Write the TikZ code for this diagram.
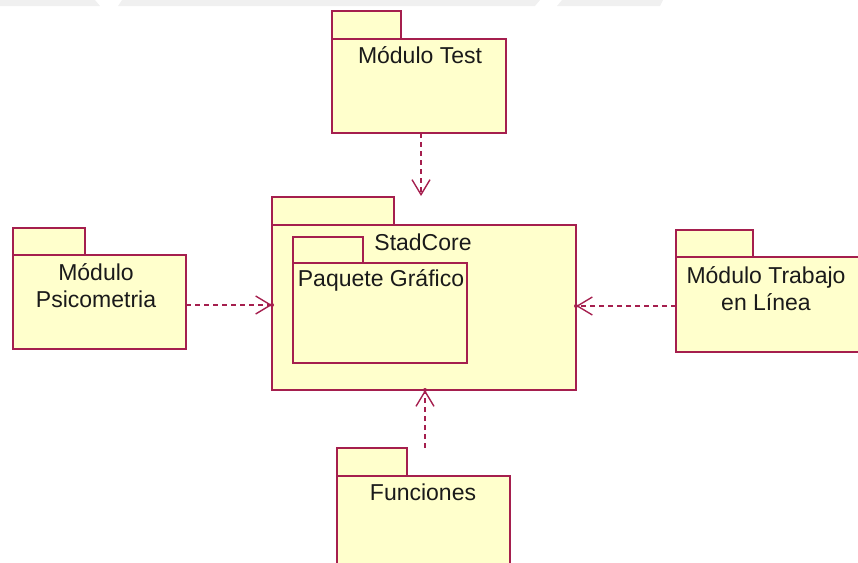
\documentclass[tikz,border=0pt]{standalone}
\usepackage{fontspec}
\setmainfont{Liberation Sans}
\usetikzlibrary{arrows.meta}
\definecolor{pkgline}{HTML}{A51F4E}
\definecolor{pkgfill}{HTML}{FFFFCC}
\definecolor{txt}{HTML}{1A1A1A}
\definecolor{band}{HTML}{F0F0F0}
\tikzset{
  pkg/.style={draw=pkgline, fill=pkgfill, line width=1.6pt, inner sep=0pt, outer sep=0pt, anchor=north west},
  lbl/.style={text=txt, font=\fontsize{23}{27}\selectfont, inner sep=0pt, align=center},
  dep/.style={draw=pkgline, line width=2pt, dash pattern=on 5pt off 4pt, -{Straight Barb[length=15pt,width=18pt,line width=1.4pt]}},
  tipdot/.style={fill=pkgline}
}
\begin{document}
\begin{tikzpicture}[x=1pt,y=-1pt]
\useasboundingbox (0,0) rectangle (858,562);
\clip (0,0) rectangle (858,562);
% top band
\fill[band] (0,0) -- (95,0) -- (100,6) -- (0,6) -- cycle;
\fill[band] (122,0) -- (540,0) -- (535,6) -- (118,6) -- cycle;
\fill[band] (562,0) -- (663,0) -- (660,6) -- (557,6) -- cycle;
% Modulo Test
\node[pkg, minimum width=69pt, minimum height=28pt] (testtab) at (332,11) {};
\node[pkg, minimum width=174pt, minimum height=94pt] (test) at (332,39) {};
\node[lbl] (testlbl) at (420,55) {Módulo Test};
% StadCore
\node[pkg, minimum width=122pt, minimum height=28pt] (coretab) at (272,197) {};
\node[pkg, minimum width=304pt, minimum height=165pt] (core) at (272,225) {};
\node[lbl] (corelbl) at (423,242) {StadCore};
% Paquete Grafico
\node[pkg, minimum width=70pt, minimum height=26pt] (grtab) at (293,237) {};
\node[pkg, minimum width=174pt, minimum height=100pt] (gr) at (293,263) {};
\node[lbl] (grlbl) at (381,280) {Paquete Gráfico};
% Modulo Psicometria
\node[pkg, minimum width=72pt, minimum height=27pt] (psytab) at (13,228) {};
\node[pkg, minimum width=173pt, minimum height=94pt] (psy) at (13,255) {};
\node[lbl] (psylbl) at (96,285.5) {Módulo\\Psicometria};
% Modulo Trabajo en Linea
\node[pkg, minimum width=77pt, minimum height=27pt] (trabtab) at (676,230) {};
\node[pkg, minimum width=200pt, minimum height=95pt] (trab) at (676,257) {};
\node[lbl] (trablbl) at (766,288.5) {Módulo Trabajo\\en Línea};
% Funciones
\node[pkg, minimum width=70pt, minimum height=28pt] (funtab) at (337,448) {};
\node[pkg, minimum width=173pt, minimum height=100pt] (fun) at (337,476) {};
\node[lbl] (funlbl) at (423,492) {Funciones};
% dependencies
\coordinate (ctop) at (421,196);
\coordinate (fstart) at (425,448);
\coordinate (cleft) at (272,305);
\coordinate (cright) at (576,306);
\draw[dep] (test.south -| ctop) -- (ctop);
\draw[dep] (psy.east |- cleft) -- (cleft);
\draw[dep] (trab.west |- cright) -- (cright);
\draw[dep] (fstart) -- (core.south -| fstart);
\fill[tipdot] (cleft) circle (2pt);
\fill[tipdot] (cright) circle (2pt);
\fill[tipdot] (core.south -| fstart) circle (2pt);
\end{tikzpicture}
\end{document}
